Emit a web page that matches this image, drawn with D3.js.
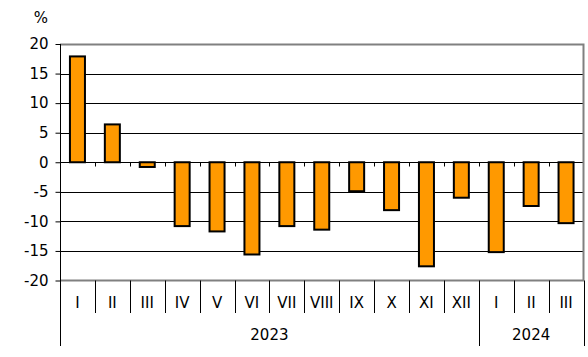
<!DOCTYPE html>
<html><head><meta charset="utf-8">
<script src="https://cdn.jsdelivr.net/npm/d3@7"></script>
<style>body{margin:0;background:#fff}svg{display:block}text{font-family:"DejaVu Sans",Verdana,sans-serif;font-size:15px;fill:#000}</style>
</head><body><svg id="c" width="588" height="357"></svg>
<script>
const categories = ["I","II","III","IV","V","VI","VII","VIII","IX","X","XI","XII","I","II","III"];
const values = [17.9, 6.4, -0.8, -10.8, -11.7, -15.6, -10.8, -11.4, -4.9, -8.1, -17.6, -6.0, -15.2, -7.4, -10.3];
const years = [{label:"2023", start:0, end:12},{label:"2024", start:12, end:15}];
const yTicks = [20,15,10,5,0,-5,-10,-15,-20];

const svg = d3.select("#c");
const L=60, R=583.5, T=44, B=280.5;
const x = d3.scaleBand().domain(d3.range(categories.length)).range([L,R]).paddingInner(0.57).paddingOuter(0.285);
const xs = d3.scaleLinear().domain([0,categories.length]).range([L,R]);
const y = d3.scaleLinear().domain([-20,20]).range([B,T]);

// gridlines
svg.append("g").selectAll("line").data(yTicks.filter(d=>d>-20&&d<20)).join("line")
  .attr("x1",L).attr("x2",R).attr("y1",d=>Math.round(y(d))+0.5).attr("y2",d=>Math.round(y(d))+0.5)
  .attr("stroke","#000").attr("stroke-width",1);
// border top/right/bottom gray
svg.append("path").attr("d",`M${L},${Math.round(T)+0.5}H${R}V${B}H${L}`).attr("fill","none").attr("stroke","#808080").attr("stroke-width",2);

// bars
svg.append("g").selectAll("rect").data(values).join("rect")
  .attr("x",(d,i)=>x(i)).attr("width",x.bandwidth())
  .attr("y",d=>y(Math.max(0,d))).attr("height",d=>Math.abs(y(d)-y(0)))
  .attr("fill","#FF9900").attr("stroke","#000").attr("stroke-width",2);

// zero-line small ticks
const y0 = Math.round(y(0))+0.5;
svg.append("g").selectAll("line").data(d3.range(1,categories.length)).join("line")
  .attr("x1",d=>Math.round(xs(d))+0.5).attr("x2",d=>Math.round(xs(d))+0.5)
  .attr("y1",y0).attr("y2",y0+4).attr("stroke","#000");

// y axis
const yAxis = d3.axisLeft(y).tickValues(yTicks).tickSize(5).tickPadding(7).tickFormat(d=>String(d));
const ga = svg.append("g").attr("transform",`translate(${L+0.5},0)`).call(yAxis);
ga.select(".domain").remove();
ga.selectAll("text").style("font-size","15px").style("font-family","DejaVu Sans").attr("fill","#000");
ga.selectAll("line").attr("stroke","#000");
svg.append("line").attr("x1",L+0.5).attr("x2",L+0.5).attr("y1",T).attr("y2",346).attr("stroke","#000");

// category separators
const sepY2 = i => (years.some(yr=>yr.start===i) || i===categories.length) ? 346 : 313;
svg.append("g").selectAll("line").data(d3.range(1,categories.length+1)).join("line")
  .attr("x1",d=>Math.round(xs(d))+0.5).attr("x2",d=>Math.round(xs(d))+0.5)
  .attr("y1",B).attr("y2",d=>sepY2(d)).attr("stroke","#000");

// category labels
svg.append("g").selectAll("text").data(categories).join("text")
  .attr("x",(d,i)=>xs(i+0.5)).attr("y",308).attr("text-anchor","middle").text(d=>d);

// year labels
svg.append("g").selectAll("text").data(years).join("text")
  .attr("x",d=>xs((d.start+d.end)/2)).attr("y",340).attr("text-anchor","middle").text(d=>d.label);

// unit
svg.append("text").attr("x",41).attr("y",23).attr("text-anchor","middle").text("%");
</script></body></html>
